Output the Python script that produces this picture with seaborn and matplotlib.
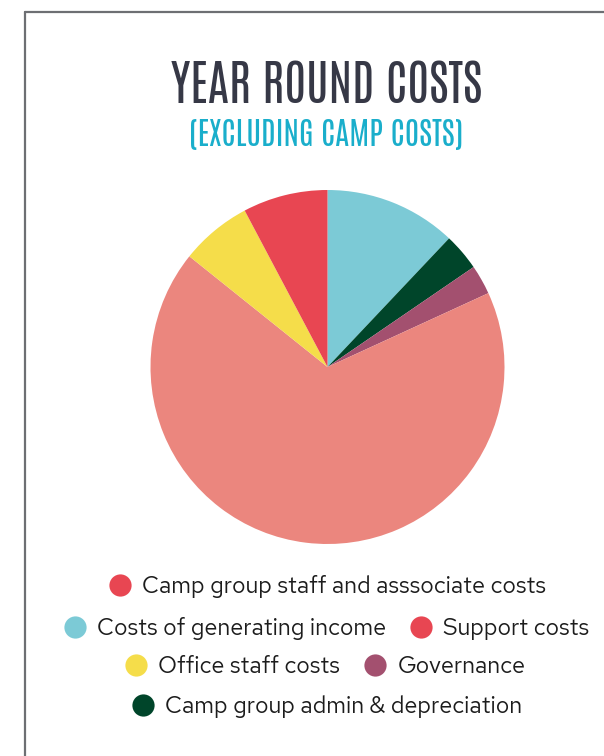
import matplotlib
matplotlib.use("Agg")
import matplotlib.pyplot as plt
import seaborn as sns
from matplotlib.lines import Line2D

sns.set_theme(style="white")
plt.rcParams['font.family'] = ['Red Hat Text', 'DejaVu Sans']

# Data (clockwise from 12 o'clock)
slice_labels = ["Costs of generating income", "Camp group admin & depreciation", "Governance",
                "Camp group staff and asssociate costs", "Office staff costs", "Support costs"]
slice_values = [12.05, 3.4, 2.7, 67.6, 6.5, 7.75]
slice_colors = ["#7ccad6", "#00452a", "#a3506f", "#eb867e", "#f5dd4a", "#e84652"]

legend_rows = [
    ["Camp group staff and asssociate costs"],
    ["Costs of generating income", "Support costs"],
    ["Office staff costs", "Governance"],
    ["Camp group admin & depreciation"],
]
legend_colors = {
    "Camp group staff and asssociate costs": "#e84652",
    "Costs of generating income": "#7ccad6",
    "Support costs": "#e84652",
    "Office staff costs": "#f5dd4a",
    "Governance": "#a3506f",
    "Camp group admin & depreciation": "#00452a",
}

W, H = 604, 756
fig = plt.figure(figsize=(W / 100, H / 100), dpi=100)
fig.patch.set_facecolor("white")

# frame lines (top and left)
fig.add_artist(Line2D([24.5 / W, 1.0], [1 - 11.5 / H, 1 - 11.5 / H], transform=fig.transFigure,
                      color="#6d6f73", lw=1.6))
fig.add_artist(Line2D([24.5 / W, 24.5 / W], [0, 1 - 11.5 / H], transform=fig.transFigure,
                      color="#6d6f73", lw=1.6))

cx, cy, r = 327.5, 367, 177
ax = fig.add_axes([(cx - r) / W, (H - cy - r) / H, 2 * r / W, 2 * r / H])
ax.pie(slice_values, colors=slice_colors, startangle=90, counterclock=False,
       wedgeprops=dict(linewidth=0))
ax.set_xlim(-1, 1)
ax.set_ylim(-1, 1)
ax.set_aspect("equal")
ax.axis("off")

fig.text(326.5 / W, 1 - 85 / H, "YEAR ROUND COSTS", ha="center", va="center",
         fontsize=34.4, color="#363846", family=["Antonio", "Oswald", "DejaVu Sans"],
         fontweight="light")
fig.text(326 / W, 1 - 135 / H, "(EXCLUDING CAMP COSTS)", ha="center", va="center",
         fontsize=22.7, color="#1aaecb", family=["Antonio", "Oswald", "DejaVu Sans"],
         fontweight="light")

row_y = [587, 629, 667, 707]
row_x = [327, 326, 325, 326.5]
for labels, yy, xx in zip(legend_rows, row_y, row_x):
    handles = [Line2D([], [], marker="o", linestyle="", markersize=16,
                      markerfacecolor=legend_colors[l], markeredgewidth=0) for l in labels]
    fig.legend(handles, labels, loc="center", bbox_to_anchor=(xx / W, 1 - yy / H),
               ncol=len(labels), frameon=False, fontsize=16.8, handlelength=1.0,
               handletextpad=0.45, columnspacing=1.0, borderpad=0, labelcolor="#1c1c1c")

fig.savefig("out.png", dpi=100)
